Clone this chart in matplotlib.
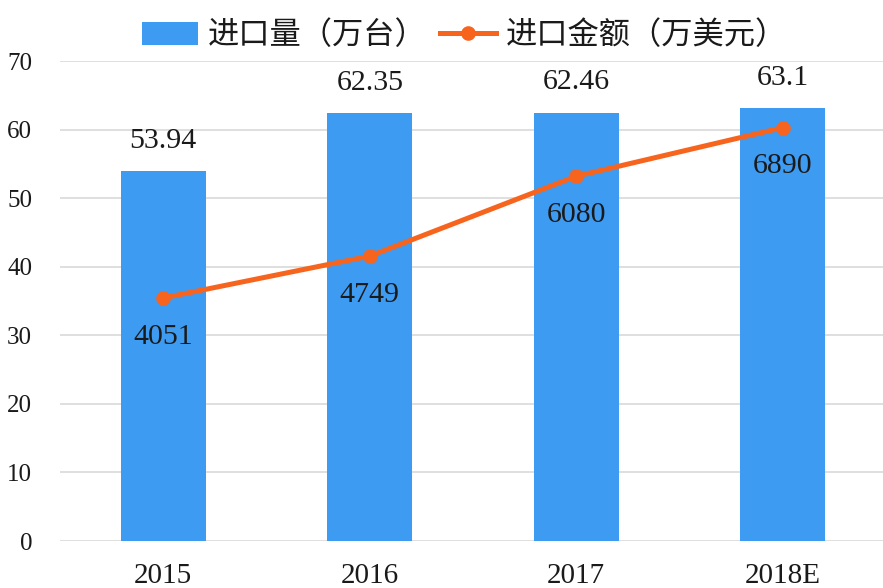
import matplotlib.pyplot as plt
import numpy as np

years = ['2015', '2016', '2017', '2018E']
import_volume = [53.94, 62.35, 62.46, 63.1]      # 万台
import_value = [4051, 4749, 6080, 6890]          # 万美元

volume_labels = ['53.94', '62.35', '62.46', '63.1']
value_labels = ['4051', '4749', '6080', '6890']

bar_color = '#3E9BF2'
line_color = '#F7641E'
text_color = '#1a1a1a'
num_font = 'Liberation Serif'
cjk_font = ['Noto Sans CJK SC', 'DejaVu Sans']

figure = plt.figure(figsize=(8.83, 5.88), dpi=100)
axes = figure.add_axes([60 / 883, 47 / 588, 1 - 60 / 883, (541 - 61) / 588])
x = np.arange(len(years))

bars = axes.bar(x, import_volume, width=0.41, color=bar_color, label='进口量（万台）', zorder=2)
axes.set_ylim(0, 70)
axes.set_yticks(range(0, 71, 10))
axes.set_xlim(-0.5, 3.485)
axes.set_xticks(x)
axes.set_xticklabels(years, fontsize=21, family=num_font, color=text_color)
axes.tick_params(axis='x', length=0, pad=16)
axes.tick_params(axis='y', length=0, pad=20, labelsize=18, labelcolor=text_color)
for label in axes.get_yticklabels():
    label.set_family(num_font)
axes.grid(axis='y', color='#d9d9d9', linewidth=1.2, zorder=0)
axes.set_axisbelow(True)
for spine in axes.spines.values():
    spine.set_visible(False)

for xi, v, txt in zip(x, import_volume, volume_labels):
    axes.annotate(txt, (xi, v), xytext=(0, 22), textcoords='offset points',
                  ha='center', va='center', fontsize=21.5, family=num_font, color=text_color)

axes2 = axes.twinx()
axes2.set_ylim(0, 8000)
axes2.axis('off')
line, = axes2.plot(x, import_value, color=line_color, linewidth=3.6, marker='o',
                   markersize=9.5, label='进口金额（万美元）', zorder=3)
for xi, v, txt in zip(x, import_value, value_labels):
    axes2.annotate(txt, (xi, v), xytext=(0, -28), textcoords='offset points',
                   ha='center', va='center', fontsize=21.5, family=num_font, color=text_color)

figure.legend(handles=[bars, line], loc='upper center', bbox_to_anchor=(0.526, 1.015),
              ncol=2, frameon=False, prop={'family': cjk_font, 'size': 22.5},
              labelcolor=text_color,
              handlelength=1.8, handleheight=0.75, columnspacing=0.45, handletextpad=0.3)

figure.savefig('out.png', dpi=100)
